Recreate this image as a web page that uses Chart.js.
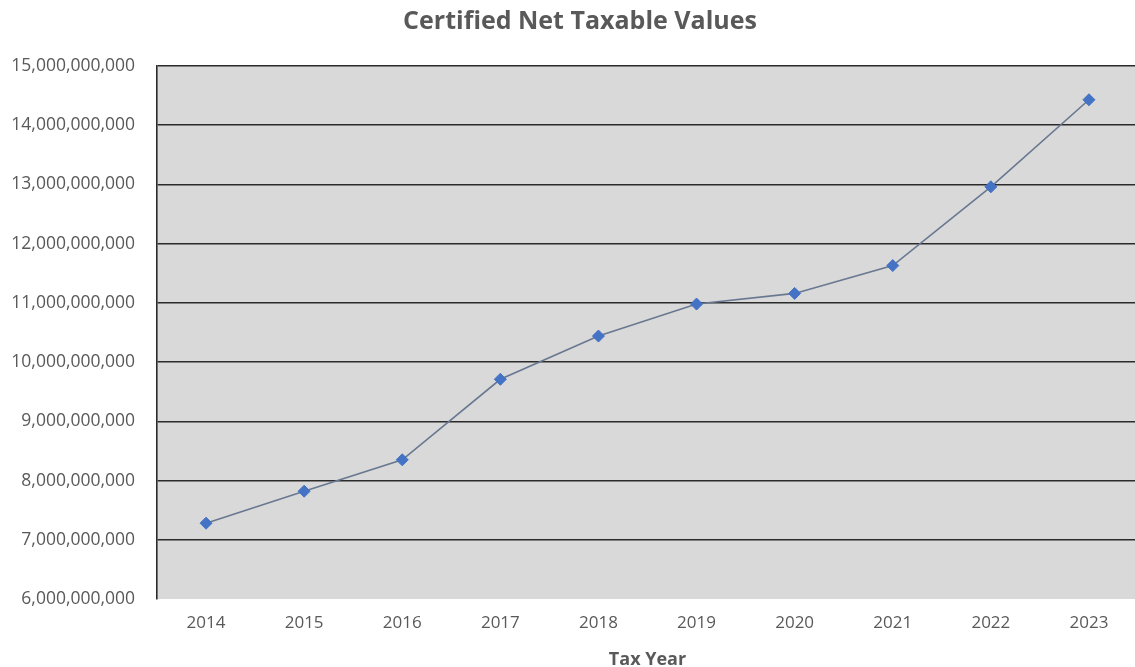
<!DOCTYPE html>
<html>
<head>
<meta charset="utf-8">
<script src="https://cdn.jsdelivr.net/npm/chart.js@4/dist/chart.umd.min.js"></script>
<style>
  html, body { margin: 0; padding: 0; background: #ffffff; overflow: hidden; }
  #wrap { position: relative; width: 1145px; height: 667px; }
</style>
</head>
<body>
<div id="wrap"><canvas id="chart" width="1145" height="667"></canvas></div>
<script>
// Certified net taxable values by tax year
const taxYears = ['2014', '2015', '2016', '2017', '2018', '2019', '2020', '2021', '2022', '2023'];
const netTaxableValues = [
  7280000000, 7820000000, 8350000000, 9710000000, 10440000000,
  10980000000, 11160000000, 11630000000, 12960000000, 14430000000
];
const chartTitle = 'Certified Net Taxable Values';
const xAxisTitle = 'Tax Year';

const FONT = "'Open Sans', 'Liberation Sans', sans-serif";
const TEXT = '#595959';

// Grey plot background behind the data
const plotBackground = {
  id: 'plotBackground',
  beforeDraw(chart) {
    const { ctx, chartArea: a } = chart;
    ctx.save();
    ctx.fillStyle = '#d9d9d9';
    ctx.fillRect(a.left, a.top, a.right - a.left, a.bottom - a.top);
    ctx.restore();
  }
};

// Chart heading
const headingText = {
  id: 'headingText',
  afterDraw(chart) {
    const { ctx } = chart;
    ctx.save();
    ctx.font = "bold 25px " + FONT;
    ctx.fillStyle = TEXT;
    ctx.textAlign = 'center';
    ctx.textBaseline = 'middle';
    ctx.fillText(chartTitle, 580, 22);
    ctx.restore();
  }
};

new Chart(document.getElementById('chart'), {
  type: 'line',
  data: {
    labels: taxYears,
    datasets: [{
      data: netTaxableValues,
      borderColor: '#687890',
      borderWidth: 1.6,
      pointStyle: 'rectRot',
      pointRadius: 6,
      pointHoverRadius: 6,
      pointBackgroundColor: '#4472c4',
      pointBorderColor: '#4472c4',
      pointBorderWidth: 1,
      tension: 0
    }]
  },
  options: {
    responsive: false,
    maintainAspectRatio: false,
    animation: false,
    layout: { padding: { top: 66, right: 6, left: 0, bottom: 0 } },
    plugins: {
      legend: { display: false },
      title: { display: false },
      tooltip: { enabled: false }
    },
    scales: {
      x: {
        offset: true,
        grid: { display: false, drawTicks: false },
        border: { display: false },
        ticks: { color: TEXT, font: { family: FONT, size: 17 }, padding: 14 },
        title: {
          display: true,
          text: xAxisTitle,
          color: TEXT,
          font: { family: FONT, size: 18, weight: 'bold' },
          padding: { top: 10, bottom: -4 }
        },
        afterFit(scale) { scale.height = 68; }
      },
      y: {
        min: 6000000000,
        max: 15000000000,
        grid: {
          drawTicks: false,
          lineWidth: 1.6,
          color: (c) => (c.tick && c.tick.value === 6000000000) ? 'rgba(0,0,0,0)' : '#2b2b2b'
        },
        border: { display: true, color: '#2b2b2b', width: 1.6 },
        ticks: {
          stepSize: 1000000000,
          color: TEXT,
          font: { family: FONT, size: 17.5 },
          padding: 22,
          callback: (v) => Number(v).toLocaleString('en-US')
        },
        afterFit(scale) { scale.width = 157; }
      }
    }
  },
  plugins: [plotBackground, headingText]
});
</script>
</body>
</html>
